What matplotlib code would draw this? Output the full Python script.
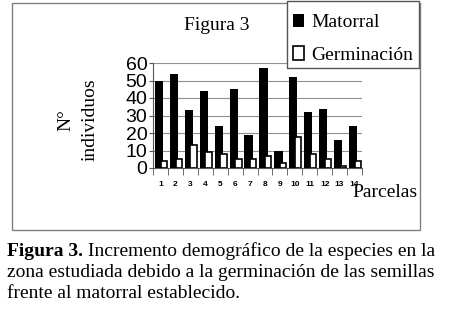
import matplotlib.pyplot as plt
import numpy as np
from matplotlib.patches import Rectangle

parcelas = ['1', '2', '3', '4', '5', '6', '7', '8', '9', '10', '11', '12', '13', '14']
matorral = [50, 54, 33, 44, 24, 45, 19, 57, 10, 52, 32, 34, 16, 24]
germinacion = [4, 5, 13, 9, 8, 5, 5, 7, 3, 18, 8, 5, 1, 4]
yticks = [0, 10, 20, 30, 40, 50, 60]

serif = 'Liberation Serif'
sans = 'Liberation Sans'

W, H = 450, 323
fig = plt.figure(figsize=(W / 100, H / 100), dpi=100)


def fx(px):
    return px / W


def fy(py):
    return 1 - py / H


# outer chart frame and legend frame
fig.patches.append(Rectangle((fx(12), fy(230)), fx(408), 227 / H, transform=fig.transFigure,
                             fill=False, edgecolor='#808080', lw=1))
fig.patches.append(Rectangle((fx(287), fy(68)), fx(132), 67 / H, transform=fig.transFigure,
                             facecolor='white', edgecolor='#555555', lw=1, zorder=5))

ax = fig.add_axes([fx(153), fy(168), fx(362 - 153), (168 - 63) / H])
x = np.arange(len(parcelas))
ax.bar(x - 0.1, matorral, width=0.55, color='black', label='Matorral', zorder=3)
ax.bar(x + 0.22, germinacion, width=0.42, color='white', edgecolor='black', lw=1.2,
       label='Germinación', zorder=4)

ax.set_xlim(-0.5, len(parcelas) - 0.5)
ax.set_ylim(0, 60)
ax.set_yticks(yticks)
ax.set_yticklabels([str(v) for v in yticks], fontsize=14, family=sans)
ax.set_xticks(x)
ax.set_xticklabels(parcelas, fontsize=6, family=sans, fontweight='bold')
ax.set_xticks(np.arange(-0.5, len(parcelas)), minor=True)
ax.tick_params(axis='x', which='major', length=0, pad=9)
ax.tick_params(axis='x', which='minor', length=5, color='#555555')
ax.tick_params(axis='y', length=3, color='#555555', pad=1)
ax.grid(axis='y', color='#909090', lw=0.8, zorder=0)
for s in ['top', 'right']:
    ax.spines[s].set_visible(False)
ax.spines['left'].set_color('#555555')
ax.spines['bottom'].set_color('#555555')

fig.text(fx(217), fy(25), 'Figura 3', family=serif, fontsize=14, ha='center', va='center')
fig.text(fx(78), fy(120), 'N°\nindividuos', family=serif, fontsize=14, rotation=90,
         ha='center', va='center', multialignment='center', linespacing=1.5)
fig.text(fx(352), fy(197), 'Parcelas', family=serif, fontsize=14, ha='left', va='baseline')

leg = fig.legend(loc='upper left', bbox_to_anchor=(fx(282), fy(3)), frameon=False,
                 prop={'family': serif, 'size': 14}, handlelength=0.6, handleheight=0.7,
                 handletextpad=0.35, labelspacing=0.75, borderpad=0.55, borderaxespad=0)
leg.set_zorder(6)

# caption
bold = fig.text(fx(7), fy(256), 'Figura 3.', family=serif, fontsize=14, fontweight='bold',
                ha='left', va='baseline')
fig.add_artist(plt.Annotation(' Incremento demográfico de la especies en la', xy=(1, 0),
                              xycoords=bold, family=serif, fontsize=14, ha='left',
                              va='bottom', annotation_clip=False))
fig.text(fx(7), fy(277), 'zona estudiada debido a la germinación de las semillas',
         family=serif, fontsize=14, ha='left', va='baseline')
fig.text(fx(7), fy(298), 'frente al matorral establecido.',
         family=serif, fontsize=14, ha='left', va='baseline')

fig.savefig('out.png', dpi=100)
